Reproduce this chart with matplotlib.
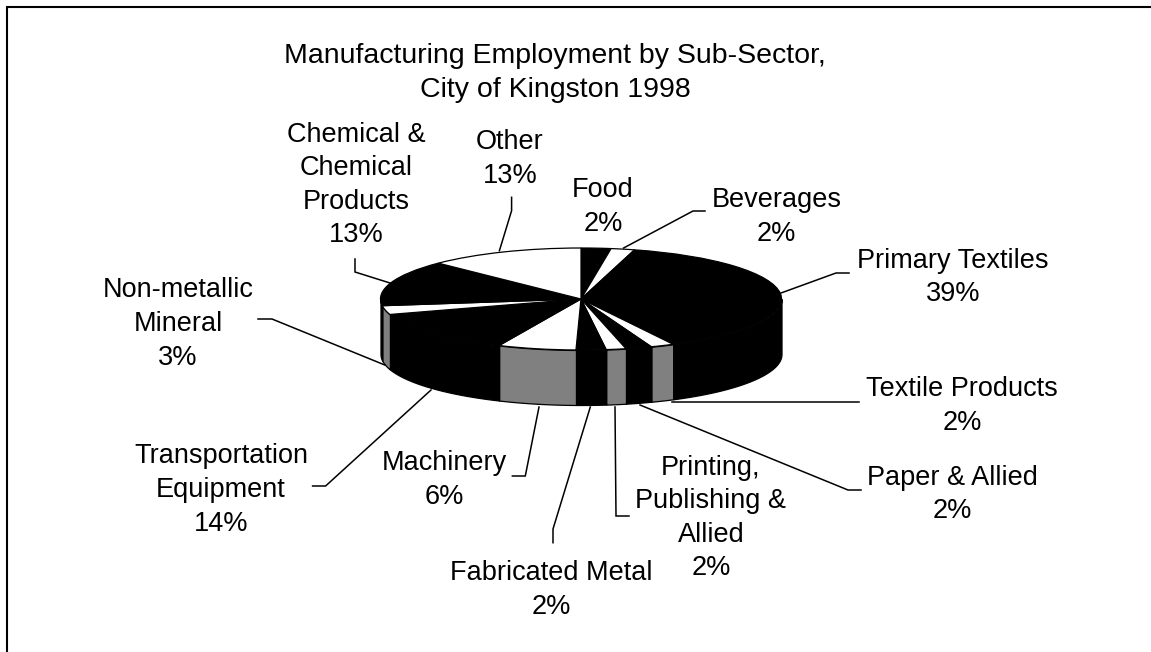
import numpy as np
import matplotlib
matplotlib.use("Agg")
import matplotlib.pyplot as plt

plt.rcParams['font.family'] = ['Liberation Sans', 'DejaVu Sans']

title = "Manufacturing Employment by Sub-Sector,\nCity of Kingston 1998"
categories = ["Food", "Beverages", "Primary Textiles", "Textile Products", "Paper & Allied",
              "Printing,\nPublishing &\nAllied", "Fabricated Metal", "Machinery",
              "Transportation\nEquipment", "Non-metallic\nMineral",
              "Chemical &\nChemical\nProducts", "Other"]
pct_labels = ["2%", "2%", "39%", "2%", "2%", "2%", "2%", "6%", "14%", "3%", "13%", "13%"]
# slice sizes
values = [2.4, 1.9, 38.1, 1.9, 2.1, 1.6, 2.4, 6.3, 13.4, 2.8, 14.5, 12.6]

top_colors = ["black", "white"] * 6
side_colors = ["black", "#808080"] * 6

# label centres in pixels
label_x = [603, 776.5, 953, 962, 952, 711, 551, 444, 221, 178, 356, 510]
label_y = [207, 217, 277.5, 406, 494.5, 518, 590, 480, 490, 324, 185, 159]
leaders = [
    None,
    [(705, 211), (693, 211), (623.6, 248)],
    [(849, 273), (836, 273), (781, 293)],
    [(858.6, 402), (671.7, 402)],
    [(861, 490), (848, 490), (640, 405)],
    [(629, 516), (616, 516), (615, 407)],
    [(553, 542.7), (553, 529), (590.3, 407)],
    [(512.4, 476), (525.3, 476), (539, 407)],
    [(312.6, 486), (325.6, 486), (431, 390)],
    [(258, 319), (272, 319), (384.8, 365)],
    [(355, 259), (355, 272), (390, 283)],
    [(511.6, 197.3), (511.6, 210.7), (499.4, 250.7)],
]

W, H = 1151, 652
cx, cy, rx, ry, depth = 581, 299, 200.5, 51, 55

fig = plt.figure(figsize=(W / 100, H / 100), dpi=100, facecolor="white")

ax = fig.add_axes([0, 0, 1, 1])
ax.pie(values, colors=top_colors, startangle=90, counterclock=False, radius=1,
       wedgeprops=dict(edgecolor="black", linewidth=0.9, zorder=5))
ax.set_aspect("auto")
ax.set_xlim(-cx / rx, (W - cx) / rx)
ax.set_ylim((cy - H) / ry, cy / ry)
ax.axis("off")

edges = np.cumsum([0] + values) / sum(values) * 360
d = depth / ry
for a, b, c in zip(edges[:-1], edges[1:], side_colors):
    lo, hi = max(a, 90), min(b, 270)
    if lo < hi:
        t = np.radians(np.linspace(lo, hi, 60))
        x, y = np.sin(t), np.cos(t)
        ax.fill_between(x, y, y - d, facecolor=c, edgecolor="black", linewidth=0.9, zorder=2)

ov = fig.add_axes([0, 0, 1, 1], facecolor="none")
ov.set_xlim(0, W)
ov.set_ylim(H, 0)
ov.axis("off")

ov.plot([6.7, 6.7, W], [H, 7.3, 7.3], color="black", lw=1.5, solid_joinstyle="miter")

for pts in leaders:
    if pts:
        xs, ys = zip(*pts)
        ov.plot(xs, ys, color="black", lw=1.1, solid_joinstyle="miter", zorder=1)

for name, pct, x, y in zip(categories, pct_labels, label_x, label_y):
    ov.text(x, y, name + "\n" + pct, ha="center", va="center", fontsize=19.5,
            linespacing=1.38, color="black")

ov.text(555, 73, title, ha="center", va="center", fontsize=20.5, linespacing=1.43, color="black")

fig.savefig("out.png", dpi=100)
